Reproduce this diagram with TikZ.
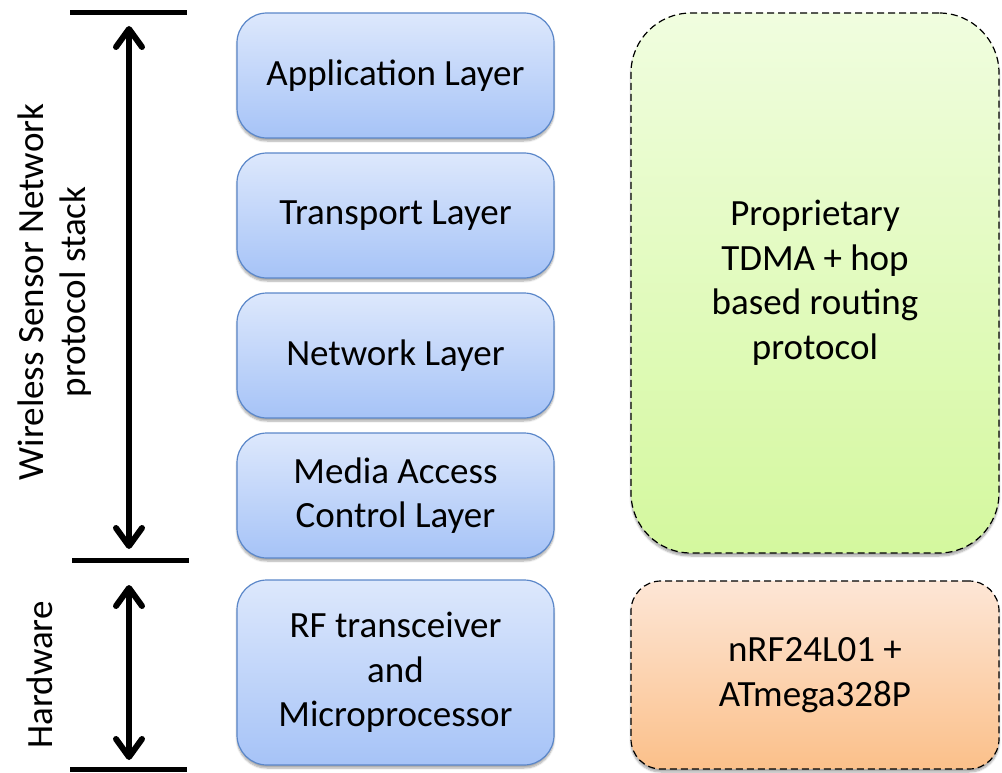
\documentclass[tikz,border=0pt]{standalone}
\usepackage{fontspec}
\setmainfont{Carlito}
\usetikzlibrary{arrows.meta,shadows.blur}
\definecolor{bluetop}{HTML}{DDE8FC}
\definecolor{bluebot}{HTML}{A6C3F7}
\definecolor{blueedge}{HTML}{5B87C9}
\definecolor{greentop}{HTML}{F0FDDF}
\definecolor{greenbot}{HTML}{D4F89E}
\definecolor{orangetop}{HTML}{FDE6D6}
\definecolor{orangebot}{HTML}{FBC08A}
\tikzset{
  layerbox/.style={draw=blueedge, line width=1.2pt, rounded corners=30pt,
    top color=bluetop, bottom color=bluebot, blur shadow={shadow xshift=0pt, shadow yshift=-3pt, shadow blur steps=6, shadow opacity=35},
    minimum width=317pt, align=center, font=\fontsize{37}{44.5}\selectfont, inner sep=0pt},
  dashbox/.style={draw=black, line width=1.2pt, dash pattern=on 7pt off 4pt,
    blur shadow={shadow xshift=0pt, shadow yshift=-3pt, shadow blur steps=6, shadow opacity=35},
    align=center, font=\fontsize{37}{44.5}\selectfont, inner sep=0pt},
  barline/.style={line width=5pt},
  dimarrow/.style={line width=6pt, {Straight Barb[length=18pt,width=26pt,line cap=round,line join=round]}-{Straight Barb[length=18pt,width=26pt,line cap=round,line join=round]}},
  sidelabel/.style={rotate=90, align=center, font=\fontsize{37}{42}\selectfont}
}
\begin{document}
\begin{tikzpicture}[x=1pt,y=-1pt]
\useasboundingbox (0,0) rectangle (1002,773);
% blue layer boxes
\node[layerbox, minimum height=125pt] (app) at (395.5,75.5) {Application Layer};
\node[layerbox, minimum height=125pt] (trans) at (395.5,215.5) {Transport Layer};
\node[layerbox, minimum height=125pt] (net) at (395.5,355.5) {Network Layer};
\node[layerbox, minimum height=125pt] (mac) at (395.5,495.5) {Media Access\\Control Layer};
\node[layerbox, minimum height=185pt] (rf) at (395.5,672.5) {RF transceiver\\and\\Microprocessor};
% dashed boxes
\node[dashbox, rounded corners=60pt, top color=greentop, bottom color=greenbot,
  minimum width=368pt, minimum height=540pt] (prop) at (815,283) {Proprietary\\TDMA + hop\\based routing\\protocol};
\node[dashbox, rounded corners=30pt, top color=orangetop, bottom color=orangebot,
  minimum width=368pt, minimum height=188pt] (hw) at (815,675) {nRF24L01 +\\ATmega328P};
% bars
\coordinate (t1) at (70,13);
\coordinate (t2) at (187,13);
\coordinate (m1) at (72,560);
\coordinate (m2) at (189,560);
\coordinate (b1) at (70,769);
\coordinate (b2) at (187,769);
\draw[barline] (t1) -- (t2);
\draw[barline] (m1) -- (m2);
\draw[barline] (b1) -- (b2);
% arrows
\coordinate (a1) at (129,26);
\coordinate (a2) at (129,549);
\coordinate (a3) at (129,585);
\coordinate (a4) at (129,760);
\draw[dimarrow] (a1) -- (a2);
\draw[dimarrow] (a3) -- (a4);
% side labels
\node[sidelabel] (wsn) at (55,292) {Wireless Sensor Network\\protocol stack};
\node[sidelabel] (hwl) at (40,675) {Hardware};
\end{tikzpicture}
\end{document}
